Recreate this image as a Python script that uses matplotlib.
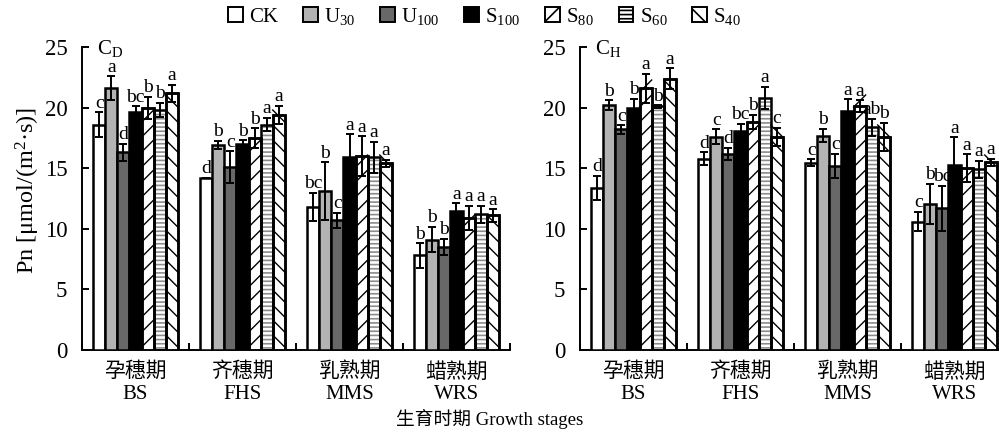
import numpy as np
import matplotlib
matplotlib.use("Agg")
import matplotlib.pyplot as plt
from matplotlib.patches import Patch
from matplotlib.lines import Line2D
from matplotlib.transforms import IdentityTransform

plt.rcParams['font.family'] = ['Liberation Serif', 'Noto Sans CJK SC', 'DejaVu Sans']
plt.rcParams['mathtext.fontset'] = 'custom'
plt.rcParams['mathtext.rm'] = 'Liberation Serif'
plt.rcParams['mathtext.it'] = 'Liberation Serif'
plt.rcParams['hatch.linewidth'] = 1.2

# Treatments and growth stages
treatments = ["CK", "U$_{30}$", "U$_{100}$", "S$_{100}$", "S$_{80}$", "S$_{60}$", "S$_{40}$"]
stages = ["孕穗期\nBS", "齐穗期\nFHS", "乳熟期\nMMS", "蜡熟期\nWRS"]

# Pn values, rows = stages, columns = treatments
cd_mean = [[18.6, 21.6, 16.3, 19.6, 20.0, 19.8, 21.2],
           [14.2, 16.9, 15.1, 17.0, 17.5, 18.6, 19.4],
           [11.8, 13.1, 10.7, 15.9, 16.0, 15.9, 15.4],
           [7.8, 9.1, 8.5, 11.5, 10.9, 11.2, 11.1]]
cd_err = [[1.0, 1.0, 0.7, 0.5, 0.9, 0.6, 0.7],
          [0.0, 0.35, 1.3, 0.3, 0.8, 0.55, 0.75],
          [1.15, 2.4, 0.6, 1.9, 1.65, 1.3, 0.3],
          [1.0, 1.05, 0.7, 0.6, 1.0, 0.7, 0.5]]
cd_sig = [["c", "a", "d", "bc", "b", "b", "a"],
          ["d", "b", "c", "b", "b", "a", "a"],
          ["bc", "b", "c", "a", "a", "a", "a"],
          ["b", "b", "b", "a", "a", "a", "a"]]

ch_mean = [[13.4, 20.2, 18.2, 20.0, 21.6, 20.1, 22.4],
           [15.8, 17.6, 16.2, 18.1, 18.8, 20.8, 17.6],
           [15.45, 17.7, 15.2, 19.7, 20.1, 18.4, 17.6],
           [10.6, 12.05, 11.7, 15.25, 15.0, 14.9, 15.5]]
ch_err = [[1.0, 0.4, 0.35, 0.75, 1.2, 0.1, 0.85],
          [0.5, 0.6, 0.5, 0.55, 0.6, 0.9, 0.75],
          [0.3, 0.55, 1.0, 1.0, 0.5, 0.7, 1.15],
          [0.8, 1.65, 1.85, 2.3, 1.15, 0.7, 0.3]]
ch_sig = [["d", "b", "c", "b", "a", "b", "a"],
          ["d", "c", "d", "bc", "b", "a", "c"],
          ["c", "b", "c", "a", "a", "ab", "b"],
          ["c", "b", "bc", "a", "a", "a", "a"]]

# bar styles per treatment
face = ["white", "#b3b3b3", "#686868", "black", "white", "white", "white"]
diag = [None, None, None, None, "/", None, "\\"]      # drawn by hand, see below
legend_hatch = [None, None, None, None, "//", "----", "\\\\"]

fs = 15

fig = plt.figure(figsize=(9.99, 4.40), dpi=100)
ax1 = fig.add_axes([0.0821, 0.2045, 0.4284, 0.6886])
ax2 = fig.add_axes([0.5806, 0.2045, 0.4284, 0.6886])

w = 0.113
centers = np.arange(len(stages)) + 0.5


def diagonal_hatch(ax, bars, direction, step=15):
    # sparse 45 degree lines clipped to each bar (Agg hatch looks patchy on thin bars)
    for b in bars:
        (x0, y0), (x1, y1) = ax.transData.transform(
            [[b.get_x(), 0], [b.get_x() + b.get_width(), b.get_height()]])
        bw = x1 - x0
        k = y0 - bw
        while k < y1:
            if direction == "/":
                ys = [k, k + bw]
            else:
                ys = [k + bw, k]
            ln = Line2D([x0, x1], ys, transform=IdentityTransform(),
                        color="black", lw=1.0, zorder=3.1)
            ln.set_clip_path(b)
            ax.add_line(ln)
            k += step


def draw_panel(ax, mean, err, sig, tag):
    mean = np.array(mean)
    err = np.array(err)
    ax.set_xlim(0, 4)
    ax.set_ylim(0, 25)
    for j in range(len(treatments)):
        x = centers + (j - 3) * w
        if j == 5:
            # grey horizontal hatch, black outline drawn on top
            ax.bar(x, mean[:, j], w, color="white", edgecolor="#8c8c8c",
                   hatch="----", linewidth=0, zorder=2)
            ax.bar(x, mean[:, j], w, fill=False, edgecolor="black",
                   linewidth=1.8, zorder=3.2)
        else:
            bars = ax.bar(x, mean[:, j], w, facecolor=face[j], edgecolor="black",
                          linewidth=1.8, zorder=3)
            if diag[j]:
                diagonal_hatch(ax, bars, diag[j])
                ax.bar(x, mean[:, j], w, fill=False, edgecolor="black",
                       linewidth=1.8, zorder=3.2)
        ax.errorbar(x, mean[:, j], yerr=err[:, j], fmt="none", ecolor="black",
                    elinewidth=1.4, capsize=3.2, capthick=1.4, zorder=4)
        for i in range(len(stages)):
            ax.text(x[i], mean[i, j] + err[i, j] + 0.05, sig[i][j],
                    ha="center", va="bottom", fontsize=14, zorder=5)

    ax.set_yticks([0, 5, 10, 15, 20, 25])
    ax.set_xticks([0, 1, 2, 3, 4])
    ax.set_xticklabels([])
    ax.set_xticks(centers, minor=True)
    ax.set_xticklabels(stages, minor=True, fontsize=fs)
    ax.tick_params(axis="x", which="major", direction="in", length=5, width=1.4)
    ax.tick_params(axis="x", which="minor", length=0, pad=9)
    ax.tick_params(axis="y", direction="in", length=5, width=1.4, labelsize=16.5, pad=10.5)
    for s in ["top", "right"]:
        ax.spines[s].set_visible(False)
    for s in ["left", "bottom"]:
        ax.spines[s].set_linewidth(1.4)
    ax.text(0.14, 24.0, tag, fontsize=fs, va="bottom")


draw_panel(ax1, cd_mean, cd_err, cd_sig, "C$_{\\mathrm{D}}$")
draw_panel(ax2, ch_mean, ch_err, ch_sig, "C$_{\\mathrm{H}}$")

fig.text(0.028, 0.568, "Pn [μmol/(m$^{2}$·s)]", rotation=90, ha="center", va="center",
         fontsize=17.5)
fig.text(0.49, 0.048, "生育时期 Growth stages", ha="center", va="center", fontsize=13.5)

# legend
handles = []
for j in range(len(treatments)):
    handles.append(Patch(facecolor=face[j], edgecolor="black", hatch=legend_hatch[j],
                         linewidth=1.4, label=treatments[j]))
fig.legend(handles=handles, loc="center", bbox_to_anchor=(0.485, 0.963), ncol=7,
           frameon=False, fontsize=fs, handlelength=0.7, handleheight=0.7,
           handletextpad=0.3, columnspacing=1.2, borderpad=0)

fig.savefig("out.png", dpi=100)
